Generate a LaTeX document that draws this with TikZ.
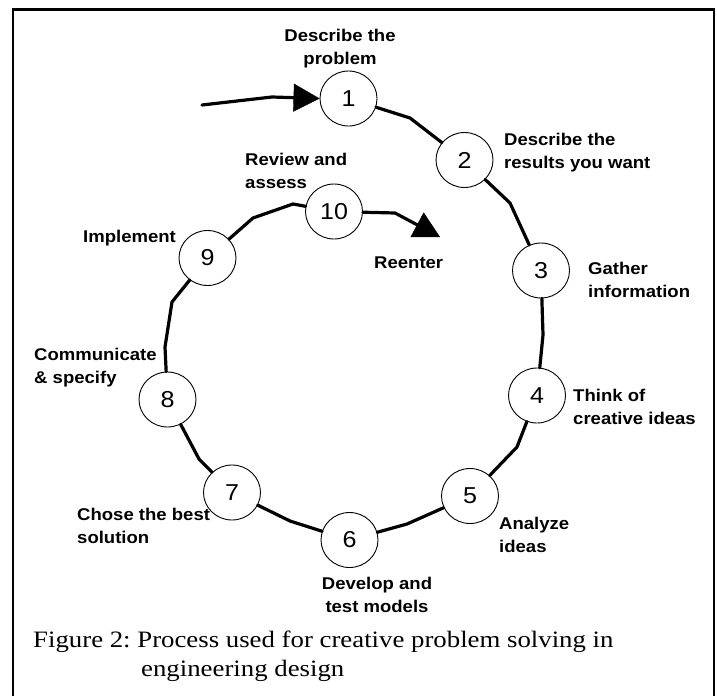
\documentclass[tikz,border=0pt]{standalone}
\usepackage{fontspec}
\setmainfont{Liberation Serif}
\newfontfamily\lblfont[FakeStretch=1.09]{Liberation Sans}
\newfontfamily\lblbold[FakeStretch=1.09]{Liberation Sans Bold}
\newfontfamily\capfont[FakeStretch=1.14]{Liberation Serif}
\usetikzlibrary{shapes.geometric,arrows.meta}

\tikzset{
  stage/.style={ellipse, draw, line width=0.9pt, fill=white, inner sep=0pt,
    minimum width=57pt, minimum height=55pt,
    font=\lblfont\fontsize{23}{24}\selectfont},
  link/.style={line width=3.2pt, line join=round, line cap=round},
  bigtip/.style={-{Triangle[length=26pt,width=28pt,line width=0.4pt]}},
  steplabel/.style={inner sep=0pt, font=\lblbold\fontsize{17}{23}\selectfont},
  caption/.style={inner sep=0pt, anchor=base west,
    font=\capfont\fontsize{23.5}{28}\selectfont\frenchspacing},
  frameline/.style={line width=2.6pt}
}

\begin{document}
\begin{tikzpicture}[x=1pt, y=-1pt]
  \useasboundingbox (0,0) rectangle (717,696);
  \fill[white] (0,0) rectangle (717,696);

  % outer frame (open at the bottom)
  \draw[frameline] (13,696) -- (13,9.5) -- (714,9.5) -- (714,696);

  % process stages
  \node[stage] (s1)  at (348.5, 98.5) {1};
  \node[stage] (s2)  at (464.5,160)   {2};
  \node[stage] (s3)  at (541,270.5)   {3};
  \node[stage] (s4)  at (537,395.5)   {4};
  \node[stage] (s5)  at (470,496)     {5};
  \node[stage] (s6)  at (349.5,540)   {6};
  \node[stage] (s7)  at (232,492.5)   {7};
  \node[stage] (s8)  at (167.5,399.5) {8};
  \node[stage] (s9)  at (207.5,258)   {9};
  \node[stage] (s10) at (334,211.5)   {10};

  % bend points of the loop
  \coordinate (in0) at (202,105);
  \coordinate (in1) at (272,97);
  \coordinate (b12) at (410,118);
  \coordinate (b23) at (510,203);
  \coordinate (b34) at (543,335);
  \coordinate (b45) at (517,447);
  \coordinate (b56) at (407,524);
  \coordinate (b67) at (290,521);
  \coordinate (b78) at (199,459);
  \coordinate (b89a) at (165,347);
  \coordinate (b89b) at (172,302);
  \coordinate (b910a) at (253,218);
  \coordinate (b910b) at (293,204);
  \coordinate (rb) at (395,213);
  \coordinate (reentry) at (440,237);

  % connectors
  \draw[link] (s1) -- (b12) -- (s2);
  \draw[link] (s2) -- (b23) -- (s3);
  \draw[link] (s3) -- (b34) -- (s4);
  \draw[link] (s4) -- (b45) -- (s5);
  \draw[link] (s5) -- (b56) -- (s6);
  \draw[link] (s6) -- (b67) -- (s7);
  \draw[link] (s7) -- (b78) -- (s8);
  \draw[link] (s8) -- (b89a) -- (b89b) -- (s9);
  \draw[link] (s9) -- (b910a) -- (b910b) -- (s10);
  \draw[link,bigtip] (in0) -- (in1) -- (s1.west);
  \draw[link,bigtip] (s10) -- (rb) -- (reentry);

  % stage labels (base = baseline of the last line)
  \node[steplabel, align=center, anchor=base] (l1) at (340,64) {Describe the\\problem};
  \node[steplabel, align=left, anchor=base west] (l2) at (504,168) {Describe the\\results you want};
  \node[steplabel, align=left, anchor=base west] (l3) at (588,297) {Gather\\information};
  \node[steplabel, align=left, anchor=base west] (l4) at (573,424) {Think of\\creative ideas};
  \node[steplabel, align=left, anchor=base west] (l5) at (499,552) {Analyze\\ideas};
  \node[steplabel, align=center, anchor=base] (l6) at (377,612) {Develop and\\test models};
  \node[steplabel, align=left, anchor=base west] (l7) at (77,543) {Chose the best\\solution};
  \node[steplabel, align=left, anchor=base west] (l8) at (34,383) {Communicate\\\& specify};
  \node[steplabel, anchor=base west] (l9) at (83,242) {Implement};
  \node[steplabel, align=left, anchor=base west] (l10) at (245,188) {Review and\\assess};
  \node[steplabel, anchor=base west] (lr) at (374,268) {Reenter};

  % caption
  \node[caption] (c1) at (33,647) {Figure 2: Process used for creative problem solving in};
  \node[caption] (c2) at (141,676) {engineering design};
\end{tikzpicture}
\end{document}
